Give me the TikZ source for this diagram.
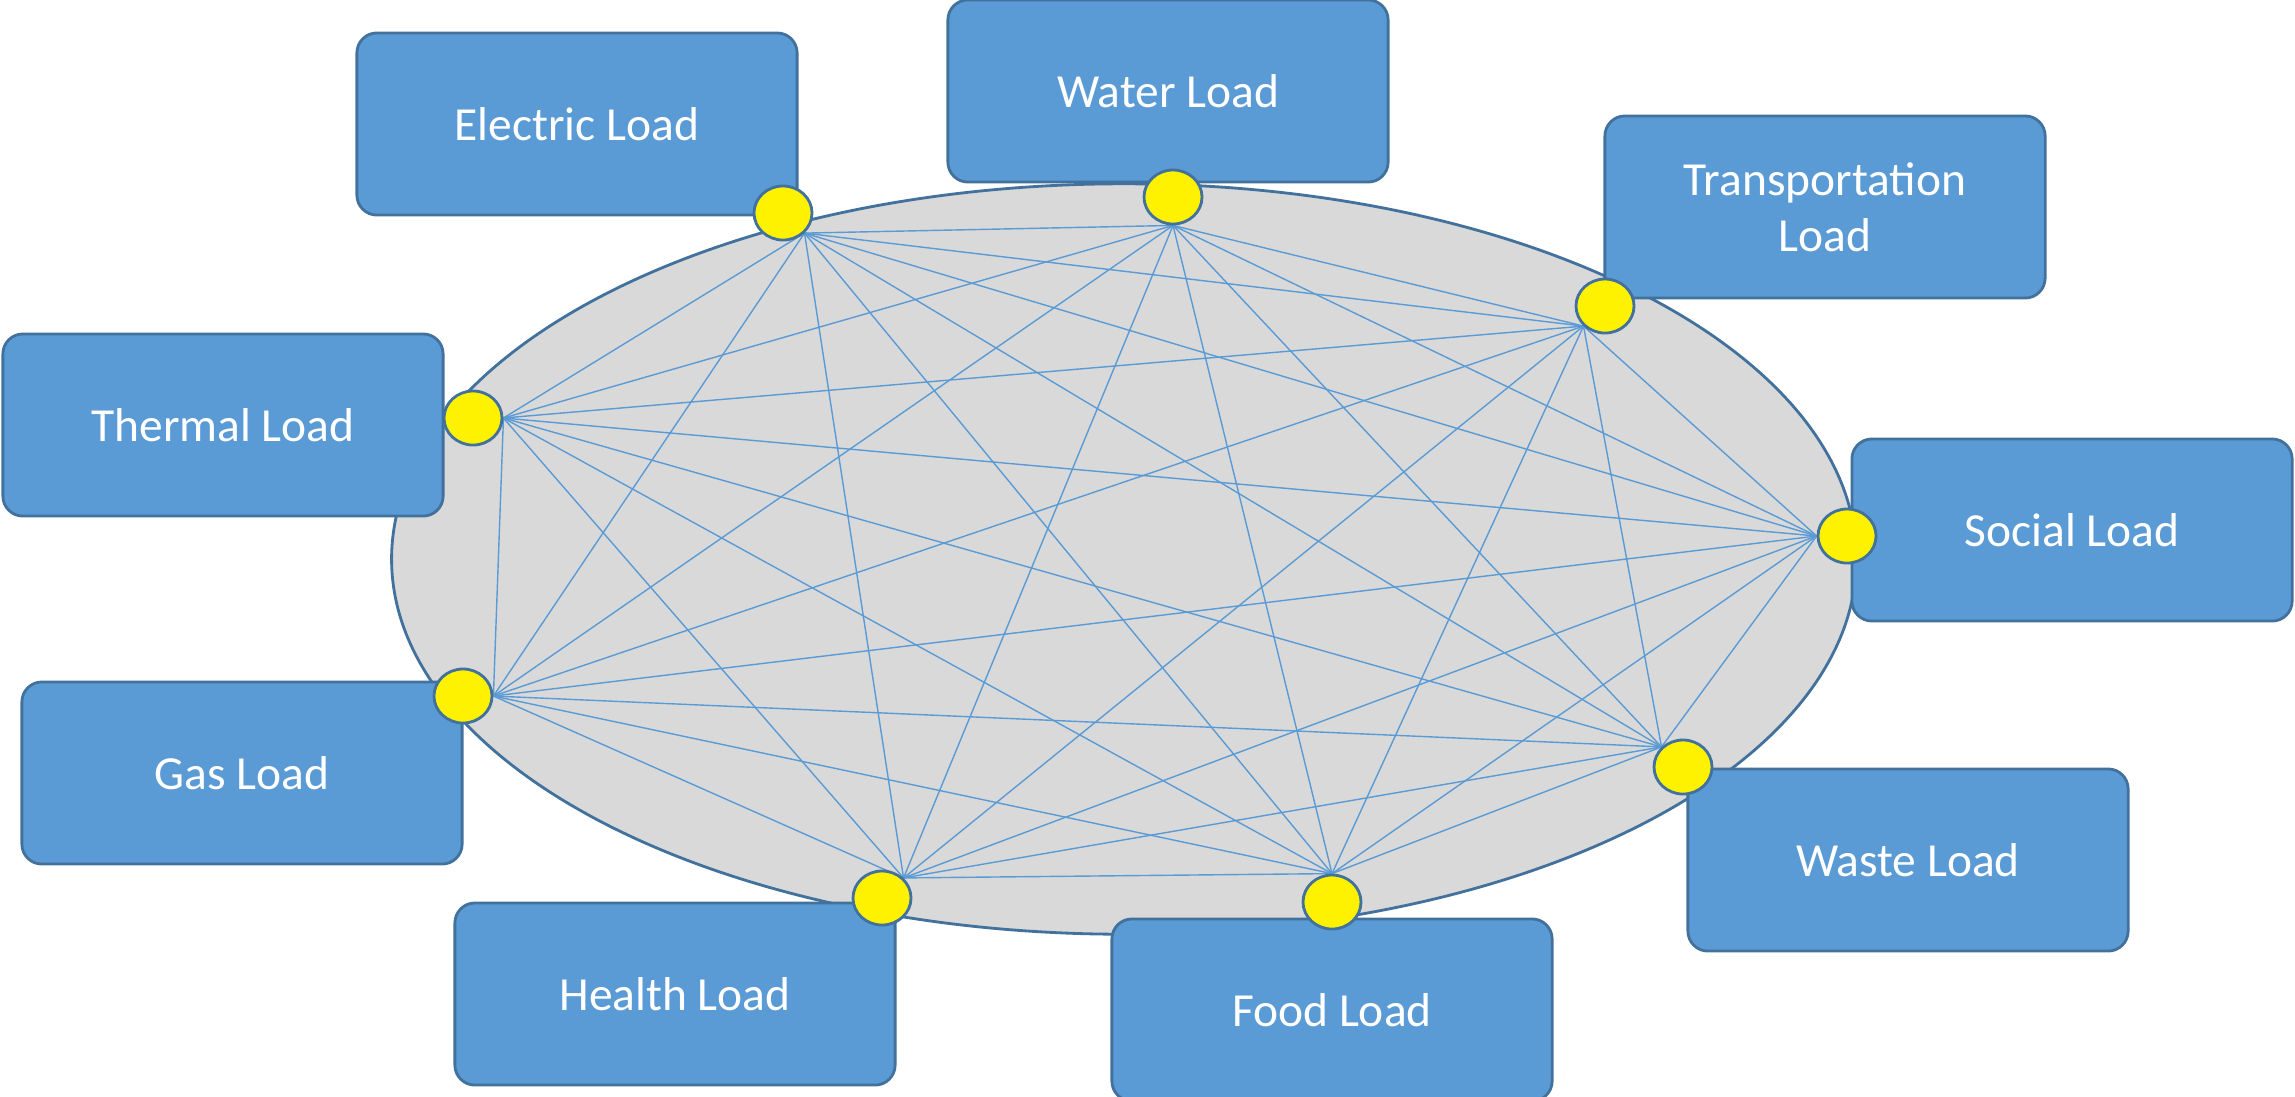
\documentclass[tikz,border=0pt]{standalone}
\usepackage{fontspec}
\setmainfont{Carlito}
\usetikzlibrary{shapes.geometric}
\definecolor{loadblue}{HTML}{5B9BD5}
\definecolor{edgeblue}{HTML}{41719C}
\definecolor{ringgray}{HTML}{D9D9D9}
\pgfdeclarelayer{back}
\pgfsetlayers{back,main}

\begin{document}
\begin{tikzpicture}[x=0.01cm, y=-0.01cm,
    load/.style={draw=edgeblue, line width=0.8pt, fill=loadblue, rounded corners=0.2cm, minimum width=4.4cm, minimum height=1.82cm, text=white, align=center, font=\fontsize{13.5}{16}\selectfont},
    dot/.style={draw=edgeblue, line width=0.8pt, fill=yellow, ellipse, minimum width=0.58cm, minimum height=0.54cm, inner sep=0pt},
    ring/.style={draw=edgeblue, line width=0.8pt, fill=ringgray, ellipse, minimum width=14.64cm, minimum height=7.5cm},
    link/.style={draw=loadblue, line width=0.4pt}]
    \useasboundingbox (0,0) rectangle (2295,1096);
    \begin{pgfonlayer}{back}
    \node (ring) [ring] at (1124,559) {};
    \end{pgfonlayer}

    \node (elecload) [load] at (577,124) {Electric Load};
    \node (waterload) [load] at (1168,91) {Water Load};
    \node (transload) [load] at (1825,207) {Transportation\\Load};
    \node (thermalload) [load] at (223,425) {Thermal Load};
    \node (socialload) [load] at (2072,530) {Social Load};
    \node (gasload) [load] at (242,773) {Gas Load};
    \node (wasteload) [load] at (1908,860) {Waste Load};
    \node (healthload) [load] at (675,994) {Health Load};
    \node (foodload) [load] at (1332,1010) {Food Load};

    \node (elec) [dot] at (783,213) {};
    \node (water) [dot] at (1173,197) {};
    \node (trans) [dot] at (1605,306) {};
    \node (thermal) [dot] at (473,418) {};
    \node (social) [dot] at (1847,536) {};
    \node (gas) [dot] at (463,696) {};
    \node (waste) [dot] at (1683,767) {};
    \node (health) [dot] at (882,898) {};
    \node (food) [dot] at (1332,902) {};

    \begin{pgfonlayer}{back}
    \foreach \a/\pa in {1/elec.south east, 2/water.south, 3/trans.south west, 4/social.west, 5/waste.north west, 6/food.north, 7/health.north east, 8/gas.east, 9/thermal.east}
        \foreach \b/\pb in {1/elec.south east, 2/water.south, 3/trans.south west, 4/social.west, 5/waste.north west, 6/food.north, 7/health.north east, 8/gas.east, 9/thermal.east}
            {\ifnum\a<\b \draw[link] (\pa) -- (\pb); \fi}
    \end{pgfonlayer}
\end{tikzpicture}
\end{document}
